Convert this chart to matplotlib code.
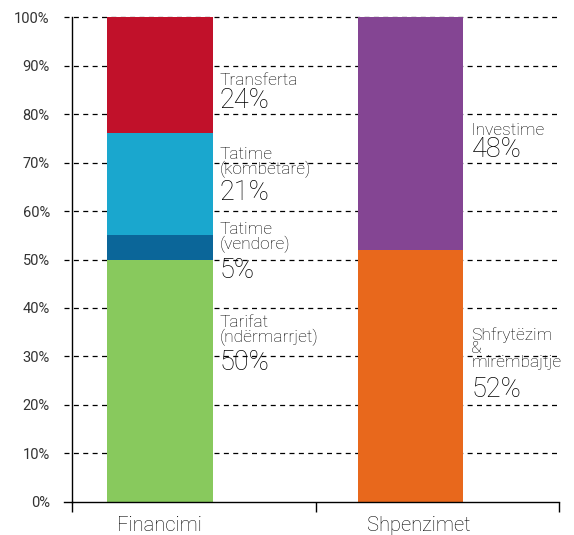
import numpy as np
from matplotlib import pyplot as plt
from matplotlib.ticker import MultipleLocator, FixedLocator

plt.rcParams['font.family'] = ['Roboto', 'DejaVu Sans']

categories = ["Financimi", "Shpenzimet"]

fin_names = ["Tarifat\n(ndërmarrjet)", "Tatime\n(vendore)", "Tatime\n(kombëtare)", "Transferta"]
fin_values = [50, 5, 21, 24]
fin_colors = ["#88c95d", "#0b6699", "#1aa7ce", "#c1112a"]

exp_names = ["Shfrytëzim\n&\nmirëmbajtje", "Investime"]
exp_values = [52, 48]
exp_colors = ["#e8681c", "#844593"]

# label anchor heights (top of name, baseline of percent)
fin_name_y = [38.6, 57.7, 73.2, 88.5]
fin_pct_y = [27.2, 46.2, 62.3, 81.2]
exp_name_y = [36.1, 78.1]
exp_pct_y = [21.6, 71.1]

fig = plt.figure(figsize=(5.74, 5.35), dpi=100)
ax = fig.add_axes([0.1254, 0.0617, 0.8486, 0.9065])

bar_x = [0.361, 1.39]
bar_w = 0.435

def stack(x, values, colors, names, name_y, pct_y, tx):
    bottom = 0
    for v, c, n, ny, py in zip(values, colors, names, name_y, pct_y):
        ax.bar(x, v, bar_w, bottom=bottom, color=c, zorder=2)
        bottom += v
        ax.text(tx, ny, n, ha="left", va="top", fontsize=12.5, color="black",
                linespacing=0.9, fontweight="light", zorder=3)
        ax.text(tx, py, f"{v}%", ha="left", va="baseline", fontsize=19.5, color="black",
                fontweight="light", zorder=3)

stack(bar_x[0], fin_values, fin_colors, fin_names, fin_name_y, fin_pct_y, 0.605)
stack(bar_x[1], exp_values, exp_colors, exp_names, exp_name_y, exp_pct_y, 1.64)

# dashed gridlines
for yv in range(10, 101, 10):
    ax.plot([-0.016, 1.0], [yv / 100, yv / 100], transform=ax.transAxes, color="black",
            ls=(0, (4, 3.5)), lw=0.9, zorder=1, clip_on=False)
ax.plot([-0.016, 0], [0, 0], transform=ax.transAxes, color="black", lw=1.0, clip_on=False)

ax.set_xlim(0, 2)
ax.set_ylim(0, 100)
ax.yaxis.set_major_locator(MultipleLocator(10))
ax.set_yticklabels([f"{int(t)}%" for t in ax.get_yticks()])
ax.tick_params(axis="y", length=0, pad=16, labelsize=10.5, labelcolor="#333333")

ax.set_xticks([0.361, 1.425])
ax.set_xticklabels(categories, fontweight="light")
ax.xaxis.set_minor_locator(FixedLocator([0, 1, 2]))
ax.tick_params(axis="x", which="major", length=0, pad=10, labelsize=14.5, labelcolor="black")
ax.tick_params(axis="x", which="minor", length=7.5, width=1.0, direction="out")

for s in ["top", "right"]:
    ax.spines[s].set_visible(False)
ax.spines["left"].set_linewidth(1.0)
ax.spines["bottom"].set_linewidth(1.0)
ax.spines["left"].set_bounds(0, 100)

fig.savefig("out.png", dpi=100)
